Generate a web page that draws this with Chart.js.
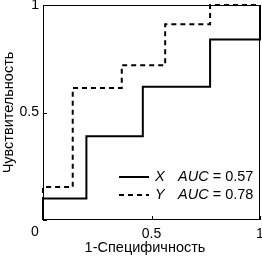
<!DOCTYPE html>
<html>
<head>
<meta charset="utf-8">
<script src="https://cdn.jsdelivr.net/npm/chart.js@4"></script>
<style>
  html, body { margin: 0; padding: 0; background: #fff; }
</style>
</head>
<body>
<canvas id="roc" width="262" height="256"></canvas>
<script>
// ROC curves, corner points (stepped: vertical first, then horizontal)
const fprX = [0, 0.2, 0.46, 0.77, 1, 1];
const tprX = [0, 0.1, 0.39, 0.62, 0.84, 1];
const fprY = [0, 0.137, 0.363, 0.563, 0.77, 1];
const tprY = [0, 0.153, 0.614, 0.72, 0.91, 1];
const seriesNames = ['X', 'Y'];
const aucValues = ['0.57', '0.78'];
const tickValues = [0, 0.5, 1];
const xTitle = '1-Специфичность';
const yTitle = 'Чувствительность';

const FONT = '"Liberation Sans", Arial, sans-serif';

function points(xs, ys) {
  return xs.map((x, i) => ({ x: x, y: ys[i] }));
}

// box, inward ticks, origin label, x title and the legend
const decorations = {
  id: 'decorations',
  afterDraw(chart) {
    const ctx = chart.ctx;
    const a = chart.chartArea;
    const xs = chart.scales.x, ys = chart.scales.y;
    ctx.save();
    ctx.strokeStyle = '#000';
    ctx.lineWidth = 1;
    ctx.strokeRect(a.left + 0.5, a.top + 0.5, a.right - a.left - 1, a.bottom - a.top - 1);

    ctx.beginPath();
    tickValues.forEach(v => {
      const px = Math.round(xs.getPixelForValue(v)) + 0.5;
      ctx.moveTo(px, a.bottom); ctx.lineTo(px, a.bottom - 4);
      const py = Math.round(ys.getPixelForValue(v)) + 0.5;
      ctx.moveTo(a.left, py); ctx.lineTo(a.left + 4, py);
    });
    ctx.stroke();

    ctx.fillStyle = '#000';
    ctx.font = '14px ' + FONT;
    ctx.textAlign = 'center';
    ctx.textBaseline = 'middle';
    ctx.fillText('0', a.left - 8, a.bottom + 12);

    ctx.font = '14.5px ' + FONT;
    ctx.fillText(xTitle, a.left + 102, a.bottom + 28);

    // legend
    ctx.textAlign = 'left';
    const rows = [a.bottom - 43, a.bottom - 25];
    chart.data.datasets.forEach((ds, i) => {
      const y = rows[i];
      ctx.beginPath();
      ctx.lineWidth = 2;
      ctx.setLineDash(ds.borderDash || []);
      ctx.moveTo(a.left + 76, y);
      ctx.lineTo(a.left + 106, y);
      ctx.stroke();
      ctx.setLineDash([]);
      let x = a.left + 112;
      ctx.font = 'italic 14.5px ' + FONT;
      ctx.fillText(seriesNames[i], x, y);
      x = a.left + 135;
      ctx.fillText('AUC', x, y);
      x += ctx.measureText('AUC').width;
      ctx.font = '14.5px ' + FONT;
      ctx.fillText(' = ' + aucValues[i], x, y);
    });
    ctx.restore();
  }
};

new Chart(document.getElementById('roc'), {
  type: 'line',
  data: {
    datasets: [
      {
        label: seriesNames[0],
        data: points(fprX, tprX),
        borderColor: '#000',
        borderWidth: 2,
        stepped: 'after',
        pointRadius: 0,
        fill: false
      },
      {
        label: seriesNames[1],
        data: points(fprY, tprY),
        borderColor: '#000',
        borderWidth: 2,
        borderDash: [5, 4],
        stepped: 'after',
        pointRadius: 0,
        fill: false
      }
    ]
  },
  options: {
    responsive: false,
    animation: false,
    clip: false,
    layout: { padding: { left: 0, right: 2, top: 5, bottom: 0 } },
    plugins: { legend: { display: false }, tooltip: { enabled: false } },
    scales: {
      x: {
        type: 'linear',
        min: 0,
        max: 1,
        afterFit: s => { s.height = 36; s.paddingLeft = 0; s.paddingRight = 0; },
        afterBuildTicks: s => { s.ticks = tickValues.map(v => ({ value: v })); },
        grid: { display: false, drawTicks: false },
        border: { display: false },
        ticks: {
          padding: 6,
          color: '#000',
          font: { family: FONT, size: 14 },
          maxRotation: 0,
          callback: v => (v === 0 ? '' : String(v))
        }
      },
      y: {
        type: 'linear',
        min: 0,
        max: 1,
        afterFit: s => { s.width = 43; s.paddingTop = 0; s.paddingBottom = 0; },
        afterBuildTicks: s => { s.ticks = tickValues.map(v => ({ value: v })); },
        grid: { display: false, drawTicks: false },
        border: { display: false },
        ticks: {
          padding: 4,
          color: '#000',
          font: { family: FONT, size: 14 },
          callback: v => (v === 0 ? '' : String(v))
        },
        title: {
          display: true,
          text: yTitle,
          color: '#000',
          padding: 0,
          font: { family: FONT, size: 14.5 }
        }
      }
    }
  },
  plugins: [decorations]
});
</script>
</body>
</html>
